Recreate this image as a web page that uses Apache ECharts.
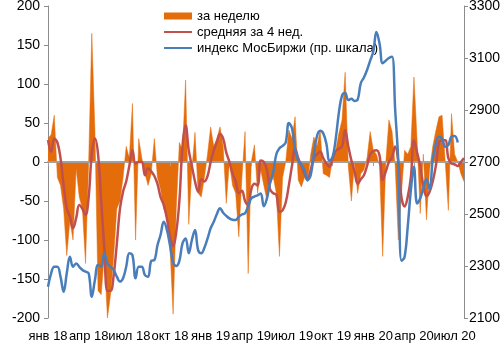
<!DOCTYPE html>
<html>
<head>
<meta charset="utf-8">
<script src="https://cdn.jsdelivr.net/npm/echarts@6/dist/echarts.min.js"></script>
<style>
  html, body { margin: 0; padding: 0; background: #fff; }
  #chart { width: 501px; height: 344px; }
</style>
</head>
<body>
<div id="chart"></div>
<script>
// Quarter labels shown under the time axis (one every 13 weeks)
const tickLabels = ['янв 18', 'апр 18', 'июл 18', 'окт 18', 'янв 19', 'апр 19',
                    'июл 19', 'окт 19', 'янв 20', 'апр 20', 'июл 20'];
const weeksPerLabel = 13;

// Weekly flows, left scale
const weekly = [
  30, 35, 60, -20, -30, -60, -120, -75, -100, -8,
  -45, -60, -130, 0, 165, 40, -165, -170, -120, -200,
  -170, -120, -60, -50, -20, 20, 5, 75, -100, 30,
  5, -15, -30, -15, 30, -20, -35, -60, -70, -110,
  -195, -60, 25, 15, 105, -80, -10, 38, -40, -45,
  -20, 10, 45, 20, 30, 45, 20, -53, 0, -30,
  -40, -96, -20, 39, -143, 0, 22, -40, -10, -30,
  -49, -30, -19, -40, -121, -20, 0, 41, 30, 58,
  -23, -32, -20, -25, 10, 32, 20, 41, -15, -17,
  -20, 5, 15, 37, 54, 115, -5, -50, 0, -40,
  -15, -10, 5, 39, 15, 10, -5, -121, 0, 54,
  39, -5, -100, -40, 15, 10, 20, 109, 28, -66,
  10, -74, -10, 20, 40, 58, 60, 0, -62, 62,
  10, 0, -15, -25
];

// Four-week average, left scale
const avg4 = [
  28, 13, 30, 25, 5, -30, -60, -70, -85, -72,
  -55, -60, -68, -45, 10, 30, 10, -50, -110, -165,
  -165, -145, -105, -60, -38, -25, -5, 15, -2, 0,
  0, -17, -8, -12, -18, -28, -45, -55, -72, -95,
  -108, -90, -50, 20, 47, 15, -5, -25, -38, -22,
  -25, -18, 0, 15, 26, 36, 30, 12, 0, -15,
  -25, -40, -37, -50, -55, -35, -28, -30, 2, 0,
  -10, -35, -40, -42, -64, -62, -52, -30, -5, 17,
  5, -5, -15, -22, -10, 5, 10, 13, 5, -2,
  -6, 5, 14, 17, 20, 41, 20, 2, -12, -28,
  -22, -17, -5, 10, 14, 15, 8, -23, -12, 0,
  6, 20, 0, -45, -57, -45, -20, 28, 12, -5,
  -30, -44, -38, -25, -5, 25, 28, 28, 5, -2,
  -3, -5, 0, 5
];

// MOEX index, right scale
const moex = [
  2220, 2272, 2297, 2297, 2259, 2201, 2272, 2336, 2297, 2310,
  2297, 2285, 2278, 2272, 2182, 2246, 2304, 2297, 2349, 2310,
  2297, 2285, 2259, 2240, 2253, 2297, 2349, 2342, 2253, 2297,
  2297, 2265, 2259, 2320, 2323, 2380, 2420, 2470, 2440, 2380,
  2315, 2300, 2320, 2387, 2406, 2349, 2400, 2438, 2361, 2349,
  2370, 2405, 2445, 2470, 2500, 2522, 2505, 2493, 2483, 2478,
  2477, 2490, 2498, 2503, 2530, 2560, 2567, 2572, 2579, 2530,
  2560, 2620, 2660, 2730, 2753, 2762, 2775, 2850, 2830, 2750,
  2705, 2690, 2668, 2630, 2650, 2730, 2800, 2820, 2810, 2770,
  2705, 2720, 2790, 2890, 2955, 2965, 2938, 2943, 2935, 2940,
  3003, 3025, 3054, 3090, 3125, 3200, 3156, 3080, 3090, 3100,
  3105, 2900, 2700, 2320, 2335, 2450, 2590, 2682, 2540, 2560,
  2600, 2635, 2595, 2710, 2770, 2797, 2790, 2759, 2765, 2798,
  2800, 2775, null, null
];

// Weekly dates used as category keys
const weeks = [];
const start = new Date(Date.UTC(2018, 0, 5));
for (let i = 0; i < weekly.length; i++) {
  const d = new Date(start.getTime() + i * 7 * 86400000);
  weeks.push(d.toISOString().slice(0, 10));
}
// Category positions that carry a quarter tick
const quarterIdx = tickLabels.map((_, k) => k * weeksPerLabel);

const FONT = '"Liberation Sans", Arial, sans-serif';
const AXIS_GRAY = '#8c8c8c';
const ORANGE = '#E46C0A';
const RED = '#C0504D';
const BLUE = '#4A7EBB';

const chart = echarts.init(document.getElementById('chart'), null, { renderer: 'canvas' });

chart.setOption({
  animation: false,
  backgroundColor: '#fff',
  textStyle: { fontFamily: FONT },
  legend: {
    orient: 'vertical',
    left: 158,
    top: 4,
    itemWidth: 28,
    itemHeight: 7,
    itemGap: 2,
    textStyle: { fontFamily: FONT, fontSize: 13, color: '#000', lineHeight: 14 },
    data: [
      { name: 'за неделю', icon: 'rect' },
      { name: 'средняя за 4 нед.', itemStyle: { opacity: 0 } },
      { name: 'индекс МосБиржи (пр. шкала)', itemStyle: { opacity: 0 } }
    ]
  },
  grid: { left: 48, right: 37, top: 6, bottom: 26, containLabel: false, outerBoundsMode: 'none' },
  xAxis: [
    {
      type: 'category',
      data: weeks,
      boundaryGap: false,
      position: 'bottom',
      axisLine: { show: false },
      axisTick: { show: false },
      splitLine: { show: false },
      axisLabel: {
        interval: weeksPerLabel - 1,
        margin: 12,
        fontFamily: FONT,
        fontSize: 13,
        color: '#000',
        hideOverlap: false,
        showMinLabel: true,
        showMaxLabel: false,
        formatter: (v, idx) => tickLabels[Math.round(idx / weeksPerLabel)] || ''
      }
    },
    {
      type: 'category',
      data: weeks,
      boundaryGap: false,
      position: 'top',
      z: 3,
      axisLine: { show: true, onZero: true, onZeroAxisIndex: 0,
                  lineStyle: { color: '#a0a0a0', width: 2 } },
      axisTick: { show: true, inside: true, customValues: quarterIdx, length: 4,
                  lineStyle: { color: '#a0a0a0', width: 1 } },
      axisLabel: { show: false },
      splitLine: { show: false }
    }
  ],
  yAxis: [
    {
      type: 'value',
      min: -200, max: 200, interval: 50,
      position: 'left',
      axisLine: { show: true, lineStyle: { color: AXIS_GRAY, width: 1 } },
      axisTick: { show: true, length: 4, lineStyle: { color: AXIS_GRAY } },
      splitLine: { show: false },
      axisLabel: { fontFamily: FONT, fontSize: 14, color: '#000', margin: 8 }
    },
    {
      type: 'value',
      min: 2100, max: 3300, interval: 200,
      position: 'right',
      axisLine: { show: true, lineStyle: { color: AXIS_GRAY, width: 1 } },
      axisTick: { show: true, length: 4, lineStyle: { color: AXIS_GRAY } },
      splitLine: { show: false },
      axisLabel: { fontFamily: FONT, fontSize: 14, color: '#000', margin: 5,
                   formatter: v => String(v) }
    }
  ],
  series: [
    {
      name: 'за неделю',
      type: 'line',
      xAxisIndex: 0, yAxisIndex: 0,
      data: weekly,
      symbol: 'none',
      z: 1,
      itemStyle: { color: ORANGE },
      lineStyle: { width: 0.5, color: ORANGE },
      areaStyle: { color: ORANGE, opacity: 1 }
    },
    {
      name: 'средняя за 4 нед.',
      type: 'line',
      xAxisIndex: 0, yAxisIndex: 0,
      data: avg4,
      symbol: 'none',
      smooth: 0.4,
      z: 4,
      itemStyle: { color: RED },
      lineStyle: { width: 2.5, color: RED }
    },
    {
      name: 'индекс МосБиржи (пр. шкала)',
      type: 'line',
      xAxisIndex: 0, yAxisIndex: 1,
      data: moex,
      symbol: 'none',
      smooth: 0.4,
      z: 5,
      itemStyle: { color: BLUE },
      lineStyle: { width: 2.5, color: BLUE }
    }
  ]
});

// The final quarter label sits next to the right axis, where the axis drops it;
// place it through the category scale so it stays aligned with its week.
const lastIdx = quarterIdx[quarterIdx.length - 1];
const pt = chart.convertToPixel({ xAxisIndex: 0, yAxisIndex: 0 }, [lastIdx, -200]);
chart.setOption({
  graphic: [{
    type: 'text',
    x: pt[0],
    y: pt[1] + 12,
    style: {
      text: tickLabels[tickLabels.length - 1],
      fontFamily: FONT, fontSize: 13, fill: '#000',
      align: 'center', verticalAlign: 'top'
    }
  }]
});
</script>
</body>
</html>
